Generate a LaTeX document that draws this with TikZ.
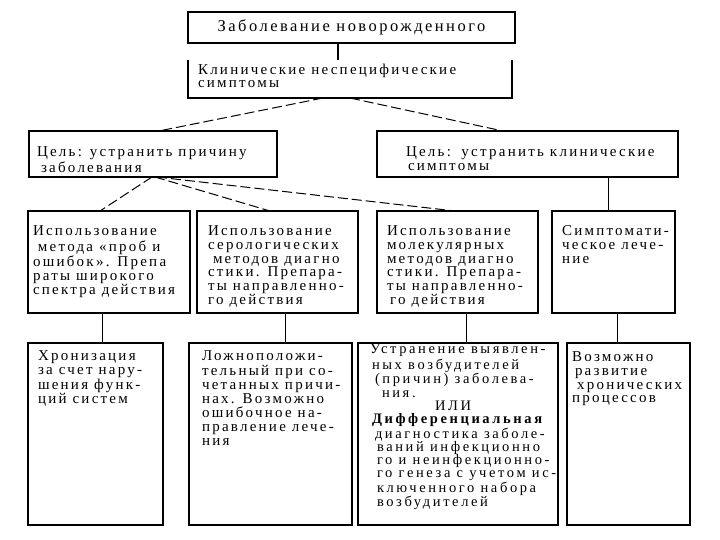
\documentclass[tikz,border=0pt]{standalone}
\usepackage{fontspec}
\setmainfont{Liberation Serif}[LetterSpace=15]
\newfontfamily\cfont{Liberation Serif}[LetterSpace=18]
\begin{document}
\begin{tikzpicture}[x=1pt,y=-1pt,
  bx/.style={draw, line width=1.7pt, inner sep=0pt, outer sep=0pt, anchor=north west},
  nobx/.style={inner sep=0pt, outer sep=0pt, anchor=north west},
  txt/.style={inner sep=0pt, outer sep=0pt, anchor=north west, align=left},
  fs/.style={font=\fontsize{15}{#1}\selectfont},
  conn/.style={line width=1pt},
  dconn/.style={line width=1pt, dash pattern=on 10pt off 4pt}]
\useasboundingbox[fill=white] (0,0) rectangle (720,540);

% boxes
\node[bx, minimum width=327pt, minimum height=31pt, font=\fontsize{16.5}{18}\selectfont] (T) at (188,12) {Заболевание новорожденного};
\node[nobx, minimum width=324pt, minimum height=38pt] (K) at (188,60) {};
\draw[line width=1.7pt] (K.north west) -- (K.south west) -- (K.south east) -- (K.north east);
\node[bx, minimum width=248pt, minimum height=46pt] (G1) at (29,131) {};
\node[bx, minimum width=301pt, minimum height=46pt] (G2) at (377,131) {};
\node[bx, minimum width=162pt, minimum height=102pt] (B1) at (28,211) {};
\node[bx, minimum width=161pt, minimum height=102pt] (B2) at (197,211) {};
\node[bx, minimum width=161pt, minimum height=102pt] (B3) at (377,211) {};
\node[bx, minimum width=123pt, minimum height=102pt] (B4) at (552,211) {};
\node[bx, minimum width=135pt, minimum height=182pt] (A) at (28,343) {};
\node[bx, minimum width=163pt, minimum height=182pt] (B) at (189,343) {};
\node[bx, minimum width=200pt, minimum height=182pt] (C) at (358,343) {};
\node[bx, minimum width=123pt, minimum height=182pt] (D) at (567,343) {};

% texts
\node[txt, fs=13.5] (Kt) at ([shift={(10,4)}]K.north west) {\strut Клинические неспецифические\\симптомы};
\node[txt, fs=13.5] (G1t) at ([shift={(8,16)}]G1.north west) {\strut Цель: устранить причину\\\hspace*{4pt}заболевания};
\node[txt, fs=13.5] (G2t) at ([shift={(29,16)}]G2.north west) {\strut Цель:\, устранить клинические\\\hspace*{2pt}симптомы};
\node[txt, fs=13.7] (B1t) at ([shift={(5,15)}]B1.north west) {\strut Использование\\\hspace*{5pt}метода «проб и\\ошибок». Препа\\раты широкого\\спектра действия};
\node[txt, fs=13.7] (B2t) at ([shift={(11,15)}]B2.north west) {\strut Использование\\серологических\\\hspace*{5pt}методов диагно\\стики. Препара-\\ты направленно-\\го действия};
\node[txt, fs=13.7] (B3t) at ([shift={(10,15)}]B3.north west) {\strut Использование\\молекулярных\\методов диагно\\стики. Препара-\\ты направленно-\\\hspace*{3pt}го действия};
\node[txt, fs=13.7] (B4t) at ([shift={(10,15)}]B4.north west) {\strut Симптомати-\\ческое лече-\\ние};
\node[txt, fs=14.3] (At) at ([shift={(10,7.5)}]A.north west) {\strut Хронизация\\за счет нару-\\шения функ-\\ций систем};
\node[txt, fs=14] (Bt) at ([shift={(13,7.7)}]B.north west) {\strut Ложноположи-\\тельный при со-\\четанных причи-\\нах. Возможно\\ошибочное на-\\правление лече-\\ния};
\node[txt, font=\cfont\fontsize{14.5}{13.25}\selectfont] (Ct) at ([shift={(12,1.5)}]C.north west) {\strut Устранение выявлен-\\\hspace*{2pt}ных возбудителей\\\hspace*{5pt}(причин) заболева-\\\hspace*{12pt}ния.\\\hspace*{65pt}ИЛИ\\\hspace*{2pt}\textbf{Дифференциальная}\\\hspace*{5pt}диагностика заболе-\\\hspace*{7pt}ваний инфекционно\\\hspace*{7pt}го и неинфекционно-\\\hspace*{7pt}го генеза с учетом ис-\\\hspace*{7pt}ключенного набора\\\hspace*{7pt}возбудителей};
\node[txt, fs=13.6] (Dt) at ([shift={(5,9)}]D.north west) {\strut Возможно\\\hspace*{3pt}развитие\\\hspace*{5pt}хронических\\процессов};

% connectors
\draw[line width=1.7pt] ([xshift=-13.5pt]T.south) -- ([xshift=-12pt]K.north);
\draw[dconn] ([xshift=-27pt]K.south) -- ([xshift=6pt]G1.north);
\draw[dconn] (K.south) -- ([xshift=-24.5pt]G2.north);
\draw[dconn] ([xshift=-1pt]G1.south) -- ([xshift=-9pt]B1.north);
\draw[dconn] ([xshift=2pt]G1.south) -- ([xshift=-7.5pt]B2.north);
\draw[dconn] ([xshift=4pt]G1.south) -- ([xshift=-2.5pt]B3.north);
\draw[conn] ([xshift=80.5pt]G2.south) -- ([xshift=-5.5pt]B4.north);
\draw[conn] ([xshift=-7pt]B1.south) -- ([xshift=6.5pt]A.north);
\draw[conn] ([xshift=7.5pt]B2.south) -- ([xshift=14.5pt]B.north);
\draw[conn] ([xshift=8.5pt]B3.south) -- ([xshift=8pt]C.north);
\draw[conn] ([xshift=3.5pt]B4.south) -- ([xshift=-11.5pt]D.north);
\end{tikzpicture}
\end{document}
